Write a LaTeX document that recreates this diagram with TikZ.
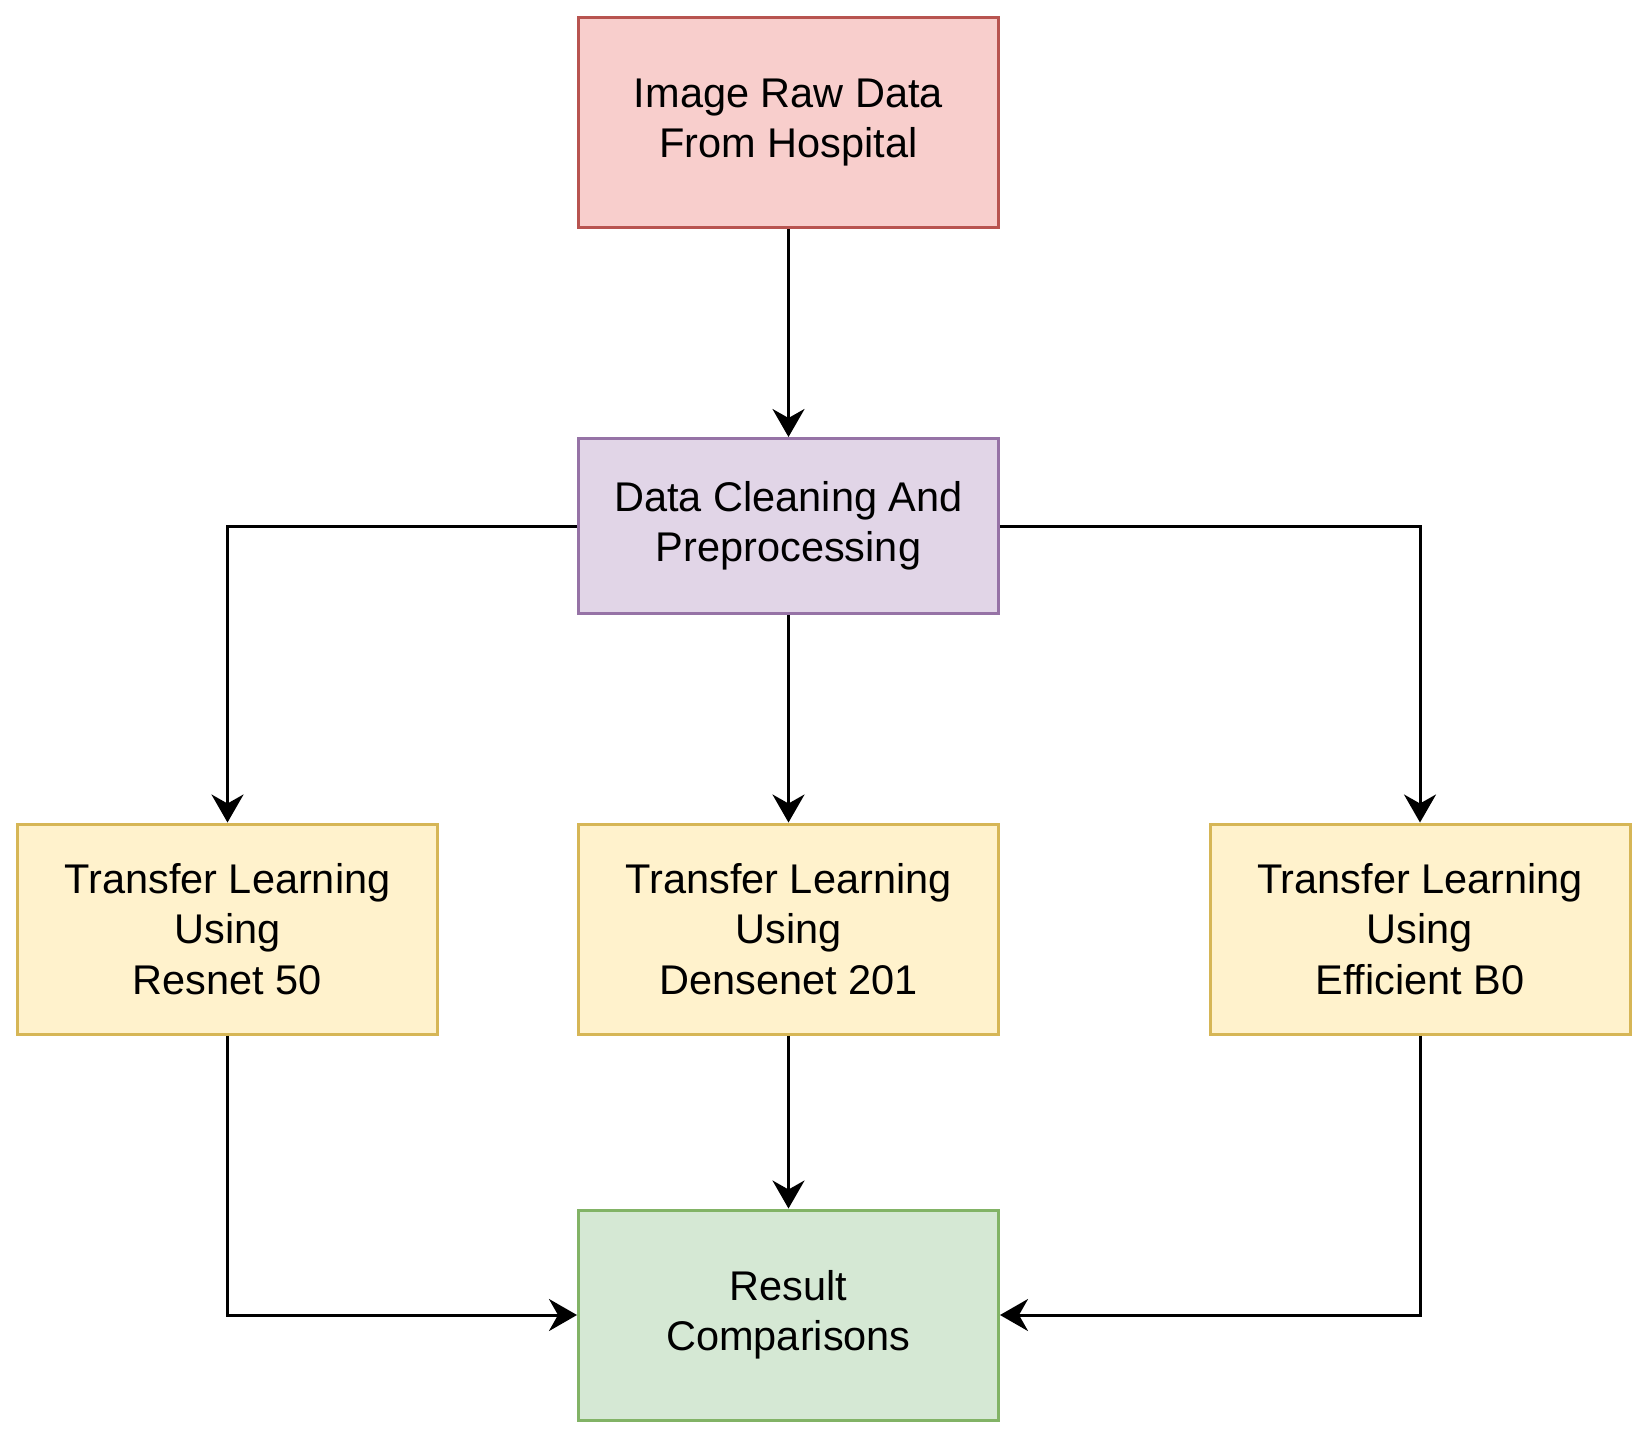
\documentclass[tikz,border=0pt]{standalone}
\usepackage{fontspec}
\setmainfont{Liberation Sans}
\usetikzlibrary{arrows.meta}
\definecolor{redfill}{HTML}{F8CECC}\definecolor{redline}{HTML}{B85450}
\definecolor{purfill}{HTML}{E1D5E7}\definecolor{purline}{HTML}{9673A6}
\definecolor{yelfill}{HTML}{FFF2CC}\definecolor{yelline}{HTML}{D6B656}
\definecolor{grnfill}{HTML}{D5E8D4}\definecolor{grnline}{HTML}{82B366}
\begin{document}
\begin{tikzpicture}[x=1pt,y=-1pt,
  box/.style={draw, line width=3pt, minimum width=420pt, align=center,
    font=\fontsize{41.5}{50.5}\selectfont, inner sep=0pt},
  conn/.style={line width=3pt, -{Stealth[length=28pt,width=32pt,inset=9pt]}}]
\useasboundingbox (0,0) rectangle (1647,1436);
\node[box, fill=redfill, draw=redline, minimum height=210pt] (raw) at (788.5,122.5) {Image Raw Data\\From Hospital};
\node[box, fill=purfill, draw=purline, minimum height=175pt] (clean) at (788.5,526) {Data Cleaning And\\Preprocessing};
\node[box, fill=yelfill, draw=yelline, minimum height=210pt] (res) at (227.5,929) {Transfer Learning\\Using\\Resnet 50};
\node[box, fill=yelfill, draw=yelline, minimum height=210pt] (dense) at (788.5,929) {Transfer Learning\\Using\\Densenet 201};
\node[box, fill=yelfill, draw=yelline, minimum height=210pt] (eff) at (1420,929) {Transfer Learning\\Using\\Efficient B0};
\node[box, fill=grnfill, draw=grnline, minimum height=210pt] (result) at (788.5,1315) {Result\\Comparisons};
\draw[conn] (raw) -- (clean);
\draw[conn] (clean) -- (dense);
\draw[conn] (clean.west) -| (res.north);
\draw[conn] (clean.east) -| (eff.north);
\draw[conn] (dense) -- (result);
\draw[conn] (res.south) |- (result.west);
\draw[conn] (eff.south) |- (result.east);
\end{tikzpicture}
\end{document}
